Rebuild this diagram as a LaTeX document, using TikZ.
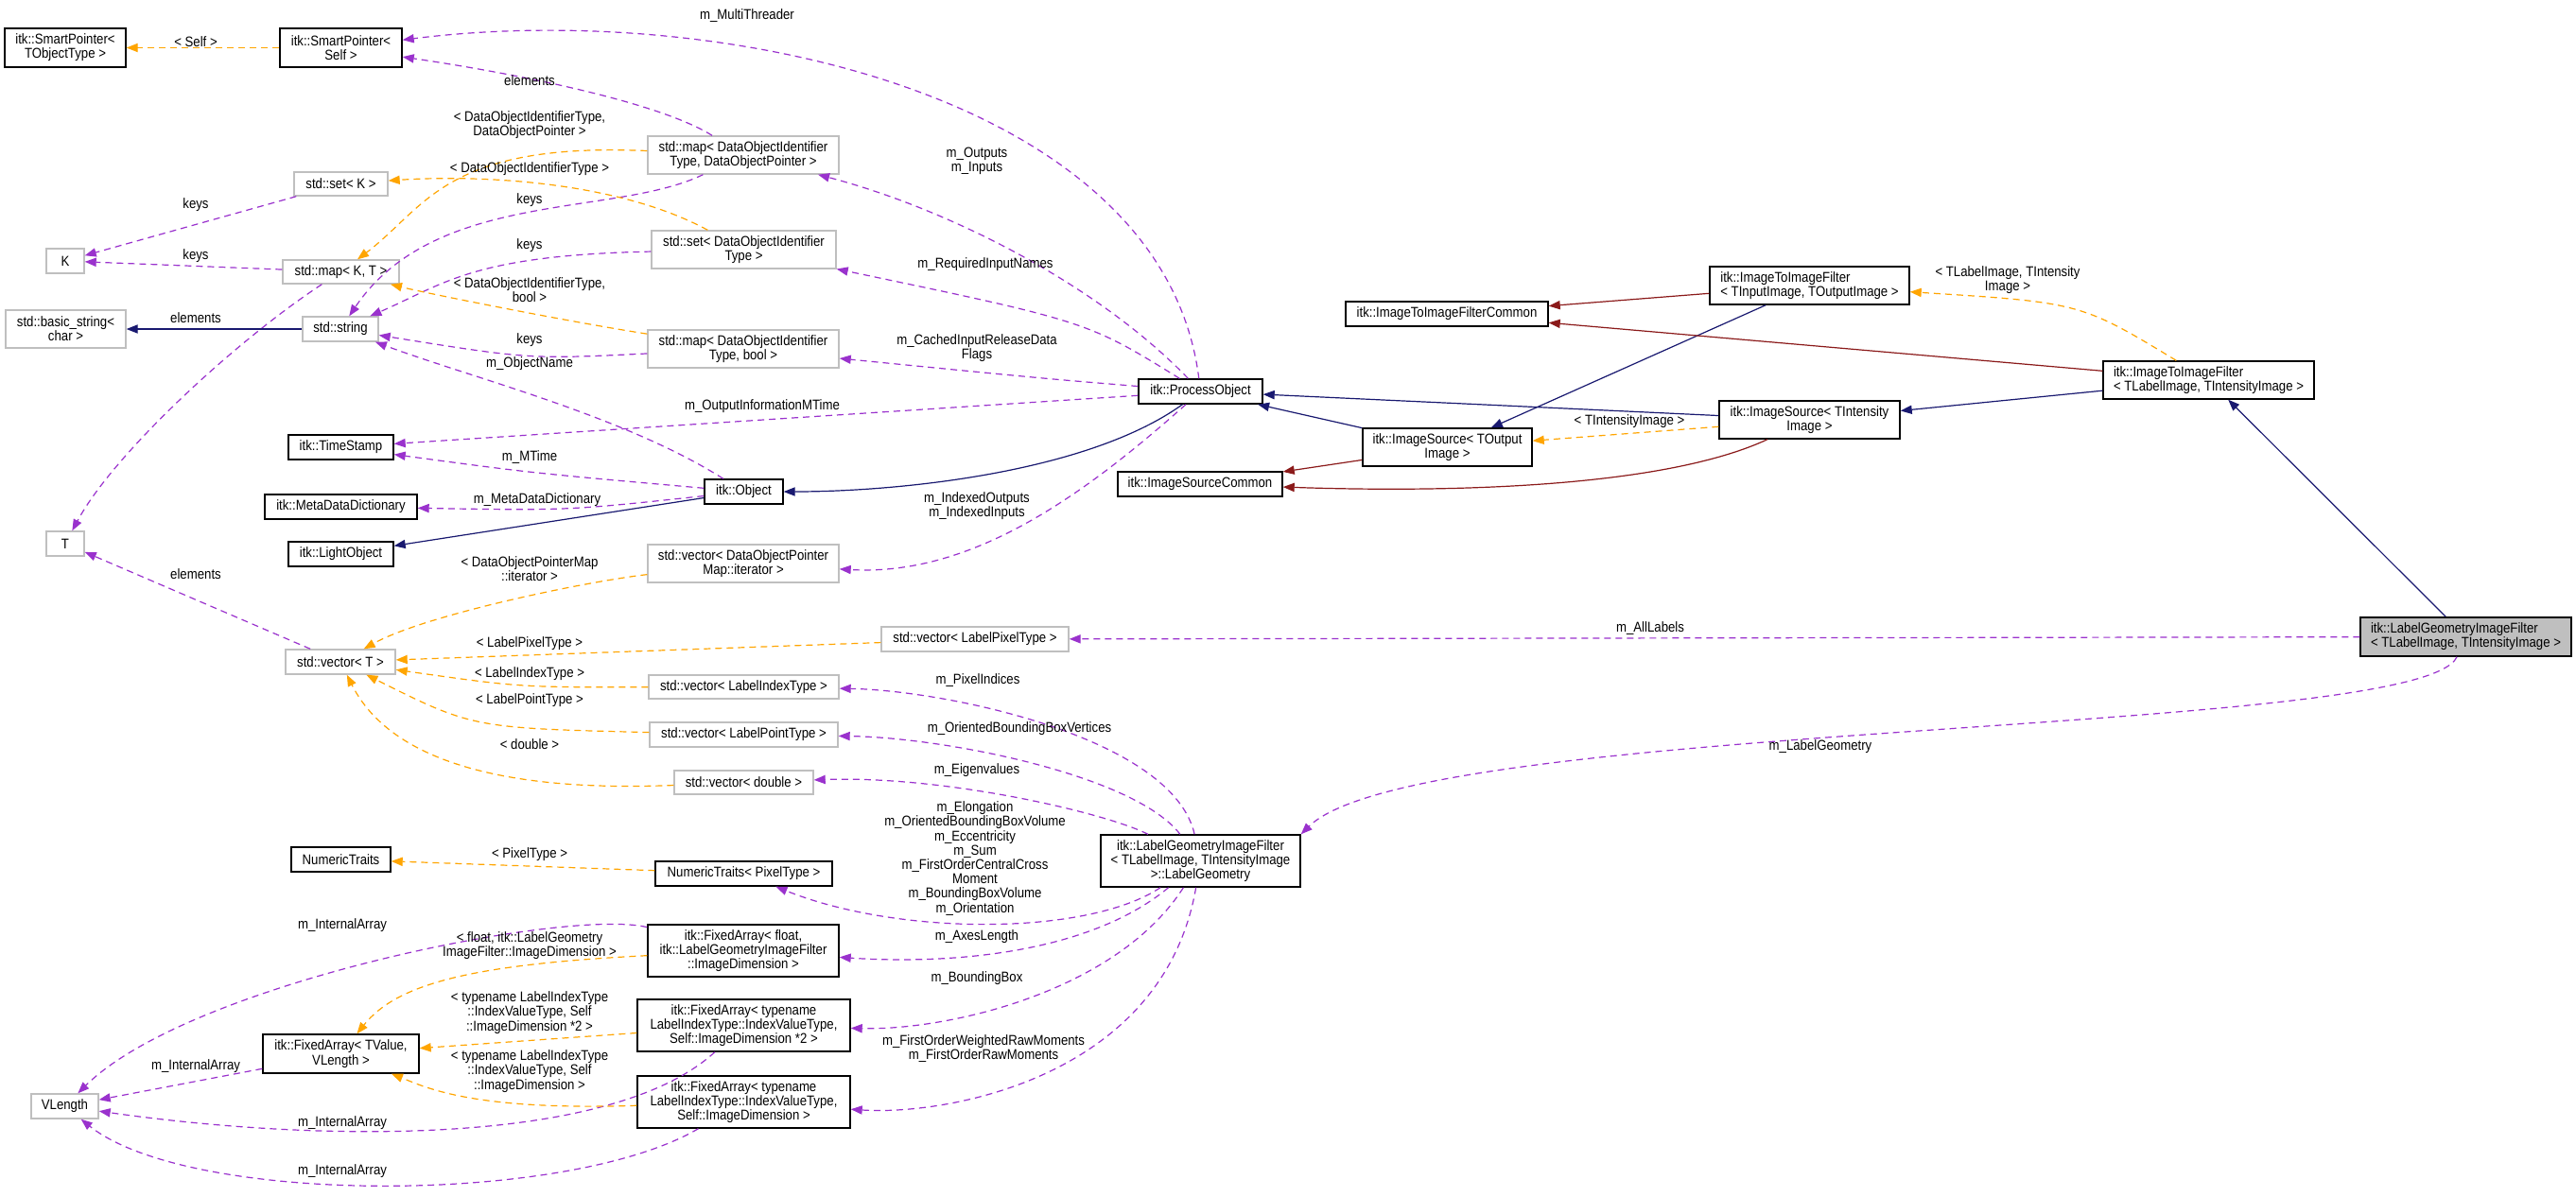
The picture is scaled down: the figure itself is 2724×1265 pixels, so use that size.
\documentclass[tikz,border=0pt]{standalone}
\usepackage{fontspec}
\setmainfont[FakeStretch=0.88]{Liberation Sans}
\usetikzlibrary{arrows.meta}
\definecolor{pu}{HTML}{9A32CD}
\definecolor{og}{HTML}{FFA500}
\definecolor{nv}{HTML}{191970}
\definecolor{dr}{HTML}{8B1A1A}
\definecolor{gr}{HTML}{BFBFBF}
\newcommand{\fs}{\fontsize{7.5}{7.6}\selectfont}
\begin{document}
\begin{tikzpicture}[x=0.5pt,y=-0.5pt,
  bb/.style={draw=black,line width=0.7pt,inner sep=1pt,align=center,font=\fs},
  gb/.style={draw=gr,line width=0.7pt,inner sep=1pt,align=center,font=\fs},
  lab/.style={font=\fs,align=center,inner sep=0pt},
  tip/.style={-{Triangle[length=6pt,width=4.6pt]}},
  use/.style={tip,draw=pu,line width=0.6pt,dash pattern=on 3.5pt off 2.5pt},
  tpl/.style={tip,draw=og,line width=0.6pt,dash pattern=on 3.5pt off 2.5pt},
  inh/.style={tip,draw=nv,line width=0.6pt},
  prv/.style={tip,draw=dr,line width=0.6pt}]
\useasboundingbox[fill=white] (0,0) rectangle (2724,1265);
% nodes
\node[bb,minimum width=64pt,minimum height=20.5pt] (spT) at (69,50.5) {itk::SmartPointer<\\TObjectType >};
\node[bb,minimum width=64.5pt,minimum height=20.5pt] (spS) at (360.5,50.5) {itk::SmartPointer<\\Self >};
\node[gb,minimum width=49.5pt,minimum height=12.5pt] (setK) at (360.5,194.5) {std::set< K >};
\node[gb,minimum width=20pt,minimum height=13pt] (K) at (69,276) {K};
\node[gb,minimum width=61.5pt,minimum height=12.5pt] (mapKT) at (360.5,287.5) {std::map< K, T >};
\node[gb,minimum width=63.5pt,minimum height=20pt] (bstr) at (69.5,348) {std::basic\_string<\\char >};
\node[gb,minimum width=40pt,minimum height=13pt] (str) at (360,348) {std::string};
\node[bb,minimum width=55.5pt,minimum height=13pt] (ts) at (360.5,473) {itk::TimeStamp};
\node[bb,minimum width=80.5pt,minimum height=13pt] (mdd) at (360.5,536) {itk::MetaDataDictionary};
\node[bb,minimum width=55.5pt,minimum height=13pt] (lo) at (360.5,586) {itk::LightObject};
\node[gb,minimum width=20pt,minimum height=13pt] (T) at (69,575) {T};
\node[bb,minimum width=41.5pt,minimum height=13pt] (obj) at (786.5,520) {itk::Object};
\node[gb,minimum width=101pt,minimum height=20pt] (mapDOP) at (786,164) {std::map< DataObjectIdentifier\\Type, DataObjectPointer >};
\node[gb,minimum width=97.5pt,minimum height=20pt] (setDOI) at (786.5,264) {std::set< DataObjectIdentifier\\Type >};
\node[gb,minimum width=101pt,minimum height=20pt] (mapBool) at (786,369) {std::map< DataObjectIdentifier\\Type, bool >};
\node[gb,minimum width=101pt,minimum height=20pt] (vecIt) at (786,596) {std::vector< DataObjectPointer\\Map::iterator >};
\node[gb,minimum width=58pt,minimum height=13pt] (vecT) at (360,700) {std::vector< T >};
\node[gb,minimum width=100.5pt,minimum height=12.5pt] (vecLI) at (786.5,726.5) {std::vector< LabelIndexType >};
\node[gb,minimum width=99.5pt,minimum height=13pt] (vecLP) at (786.5,777) {std::vector< LabelPointType >};
\node[gb,minimum width=73.5pt,minimum height=12.5pt] (vecD) at (786.5,827.5) {std::vector< double >};
\node[bb,minimum width=52.5pt,minimum height=13pt] (nt) at (360.5,909) {NumericTraits};
\node[bb,minimum width=93.5pt,minimum height=13pt] (ntP) at (786.5,924) {NumericTraits< PixelType >};
\node[bb,minimum width=101pt,minimum height=27.5pt] (faF) at (786,1005.5) {itk::FixedArray< float,\\itk::LabelGeometryImageFilter\\::ImageDimension >};
\node[bb,minimum width=82.5pt,minimum height=20.5pt] (faTV) at (360.5,1114.5) {itk::FixedArray< TValue,\\VLength >};
\node[bb,minimum width=112.5pt,minimum height=27.5pt] (fa2) at (786.5,1084.5) {itk::FixedArray< typename\\LabelIndexType::IndexValueType,\\Self::ImageDimension *2 >};
\node[bb,minimum width=112.5pt,minimum height=27.5pt] (fa1) at (786.5,1165.5) {itk::FixedArray< typename\\LabelIndexType::IndexValueType,\\Self::ImageDimension >};
\node[gb,minimum width=35.5pt,minimum height=13pt] (vl) at (68.5,1170) {VLength};
\node[bb,minimum width=65.5pt,minimum height=13pt] (po) at (1269.5,414) {itk::ProcessObject};
\node[bb,minimum width=107pt,minimum height=13pt] (i2ic) at (1530,332) {itk::ImageToImageFilterCommon};
\node[bb,minimum width=89.5pt,minimum height=20pt] (isO) at (1530.5,473) {itk::ImageSource< TOutput\\Image >};
\node[bb,minimum width=87pt,minimum height=13pt] (isc) at (1269,512) {itk::ImageSourceCommon};
\node[gb,minimum width=99pt,minimum height=13pt] (vecLPix) at (1031,676) {std::vector< LabelPixelType >};
\node[bb,minimum width=105.5pt,minimum height=27.5pt] (lg) at (1269.5,910.5) {itk::LabelGeometryImageFilter\\< TLabelImage, TIntensityImage\\ >::LabelGeometry};
\node[bb,minimum width=105.5pt,minimum height=20pt,align=left] (i2iIO) at (1913.5,302) {itk::ImageToImageFilter\\< TInputImage, TOutputImage >};
\node[bb,minimum width=111.5pt,minimum height=20pt,align=left] (i2iLI) at (2335.5,402) {itk::ImageToImageFilter\\< TLabelImage, TIntensityImage >};
\node[bb,minimum width=95.5pt,minimum height=20pt] (isI) at (1913.5,444) {itk::ImageSource< TIntensity\\Image >};
\node[bb,fill=gr,minimum width=111.5pt,minimum height=20.5pt,align=left] (lgif) at (2607.5,673.5) {itk::LabelGeometryImageFilter\\< TLabelImage, TIntensityImage >};
% purple usage edges
\draw[use] (po) .. controls (1230,100) and (760,0) .. (spS);
\draw[use] (mapDOP) .. controls (700,110) and (560,80) .. (spS);
\draw[use] (po) .. controls (1160,300) and (1000,220) .. (mapDOP);
\draw[use] (po) .. controls (1150,340) .. (setDOI);
\draw[use] (po) .. controls (1100,400) .. (mapBool);
\draw[use] (po) -- (ts);
\draw[use] (po) .. controls (1150,520) and (1030,610) .. (vecIt);
\draw[use] (setK) -- (K);
\draw[use] (mapKT) -- (K);
\draw[use] (mapKT) .. controls (250,360) and (120,480) .. (T);
\draw[use] (mapDOP) .. controls (650,230) and (460,200) .. (str);
\draw[use] (setDOI) .. controls (500,270) and (470,300) .. (str);
\draw[use] (mapBool) .. controls (560,380) .. (str);
\draw[use] (obj) .. controls (660,440) and (500,400) .. (str);
\draw[use] (obj) .. controls (560,500) .. (ts);
\draw[use] (obj) .. controls (600,540) .. (mdd);
\draw[use] (vecT) -- (T);
\draw[use] (lgif) -- (vecLPix);
\draw[use] (lgif) .. controls (2560,780) and (1500,760) .. (lg.north east);
\draw[use] (lg) .. controls (1240,780) and (1000,730) .. (vecLI);
\draw[use] (lg) .. controls (1200,820) and (1000,780) .. (vecLP);
\draw[use] (lg) .. controls (1170,860) and (1000,820) .. (vecD);
\draw[use] (lg) .. controls (1150,990) and (950,990) .. (ntP);
\draw[use] (lg) .. controls (1150,1010) and (1000,1020) .. (faF);
\draw[use] (lg) .. controls (1180,1050) and (1000,1090) .. (fa2);
\draw[use] (lg) .. controls (1230,1140) and (1000,1180) .. (fa1);
\draw[use] (faF) .. controls (600,960) and (200,1040) .. (vl);
\draw[use] (faTV) -- (vl);
\draw[use] (fa2) .. controls (650,1210) and (350,1210) .. (vl);
\draw[use] (fa1) .. controls (600,1275) and (200,1275) .. (vl);
% orange template edges
\draw[tpl] (spS) -- (spT);
\draw[tpl] (mapDOP) .. controls (470,150) and (450,220) .. (mapKT);
\draw[tpl] (setDOI) .. controls (650,190) and (500,185) .. (setK);
\draw[tpl] (mapBool) .. controls (600,340) and (450,310) .. (mapKT);
\draw[tpl] (vecIt) .. controls (620,615) and (450,650) .. (vecT);
\draw[tpl] (vecLPix) -- (vecT);
\draw[tpl] (vecLI) .. controls (550,727) .. (vecT);
\draw[tpl] (vecLP) .. controls (500,770) .. (vecT);
\draw[tpl] (vecD) .. controls (480,840) and (400,780) .. (vecT);
\draw[tpl] (ntP) -- (nt);
\draw[tpl] (faF) .. controls (500,1020) and (420,1040) .. (faTV);
\draw[tpl] (fa2) -- (faTV);
\draw[tpl] (fa1) .. controls (500,1175) and (450,1150) .. (faTV);
\draw[tpl] (i2iLI) .. controls (2200,320) .. (i2iIO);
\draw[tpl] (isI) -- (isO);
% inheritance
\draw[inh] (str) -- (bstr);
\draw[inh] (po) .. controls (1150,500) and (950,520) .. (obj);
\draw[inh] (obj) -- (lo);
\draw[inh] (isO) -- (po);
\draw[inh] (isI) -- (po);
\draw[inh] (i2iIO) -- (isO);
\draw[inh] (i2iLI) -- (isI);
\draw[inh] (lgif) -- (i2iLI);
\draw[prv] (i2iIO) -- (i2ic);
\draw[prv] (i2iLI) -- (i2ic);
\draw[prv] (isO) -- (isc);
\draw[prv] (isI) .. controls (1750,520) and (1500,520) .. (isc);
% labels
\node[lab] (l1) at (790,17) {m\_MultiThreader};
\node[lab] (l2) at (560,85) {elements};
\node[lab] (l3) at (1033,170) {m\_Outputs\\m\_Inputs};
\node[lab] (l4) at (1042,280) {m\_RequiredInputNames};
\node[lab] (l5) at (1033,368) {m\_CachedInputReleaseData\\Flags};
\node[lab] (l6) at (806,430) {m\_OutputInformationMTime};
\node[lab] (l7) at (1033,535) {m\_IndexedOutputs\\m\_IndexedInputs};
\node[lab] (l8) at (207,217) {keys};
\node[lab] (l9) at (207,271) {keys};
\node[lab] (l10) at (207,336) {elements};
\node[lab] (l11) at (560,212) {keys};
\node[lab] (l12) at (560,260) {keys};
\node[lab] (l13) at (560,360) {keys};
\node[lab] (l14) at (560,385) {m\_ObjectName};
\node[lab] (l15) at (560,484) {m\_MTime};
\node[lab] (l16) at (568,529) {m\_MetaDataDictionary};
\node[lab] (l17) at (207,607) {elements};
\node[lab] (l18) at (1745,665) {m\_AllLabels};
\node[lab] (l19) at (1925,790) {m\_LabelGeometry};
\node[lab] (l20) at (1034,720) {m\_PixelIndices};
\node[lab] (l21) at (1078,771) {m\_OrientedBoundingBoxVertices};
\node[lab] (l22) at (1033,815) {m\_Eigenvalues};
\node[lab] (l23) at (1031,908) {m\_Elongation\\m\_OrientedBoundingBoxVolume\\m\_Eccentricity\\m\_Sum\\m\_FirstOrderCentralCross\\Moment\\m\_BoundingBoxVolume\\m\_Orientation};
\node[lab] (l24) at (1033,991) {m\_AxesLength};
\node[lab] (l25) at (1033,1035) {m\_BoundingBox};
\node[lab] (l26) at (1040,1109) {m\_FirstOrderWeightedRawMoments\\m\_FirstOrderRawMoments};
\node[lab] (l27) at (362,979) {m\_InternalArray};
\node[lab] (l28) at (207,1128) {m\_InternalArray};
\node[lab] (l29) at (362,1188) {m\_InternalArray};
\node[lab] (l30) at (362,1239) {m\_InternalArray};
\node[lab] (la) at (207,44) {< Self >};
\node[lab] (lb) at (560,132) {< DataObjectIdentifierType,\\DataObjectPointer >};
\node[lab] (lc) at (560,179) {< DataObjectIdentifierType >};
\node[lab] (ld) at (560,307) {< DataObjectIdentifierType,\\bool >};
\node[lab] (le) at (560,602) {< DataObjectPointerMap\\::iterator >};
\node[lab] (lf) at (560,681) {< LabelPixelType >};
\node[lab] (lg2) at (560,713) {< LabelIndexType >};
\node[lab] (lh) at (560,741) {< LabelPointType >};
\node[lab] (li) at (560,787) {< double >};
\node[lab] (lj) at (560,904) {< PixelType >};
\node[lab] (lk) at (560,1000) {< float, itk::LabelGeometry\\ImageFilter::ImageDimension >};
\node[lab] (ll) at (560,1071) {< typename LabelIndexType\\::IndexValueType, Self\\::ImageDimension *2 >};
\node[lab] (lm) at (560,1133) {< typename LabelIndexType\\::IndexValueType, Self\\::ImageDimension >};
\node[lab] (ln) at (2123,296) {< TLabelImage, TIntensity\\Image >};
\node[lab] (lo2) at (1723,446) {< TIntensityImage >};
\end{tikzpicture}
\end{document}
